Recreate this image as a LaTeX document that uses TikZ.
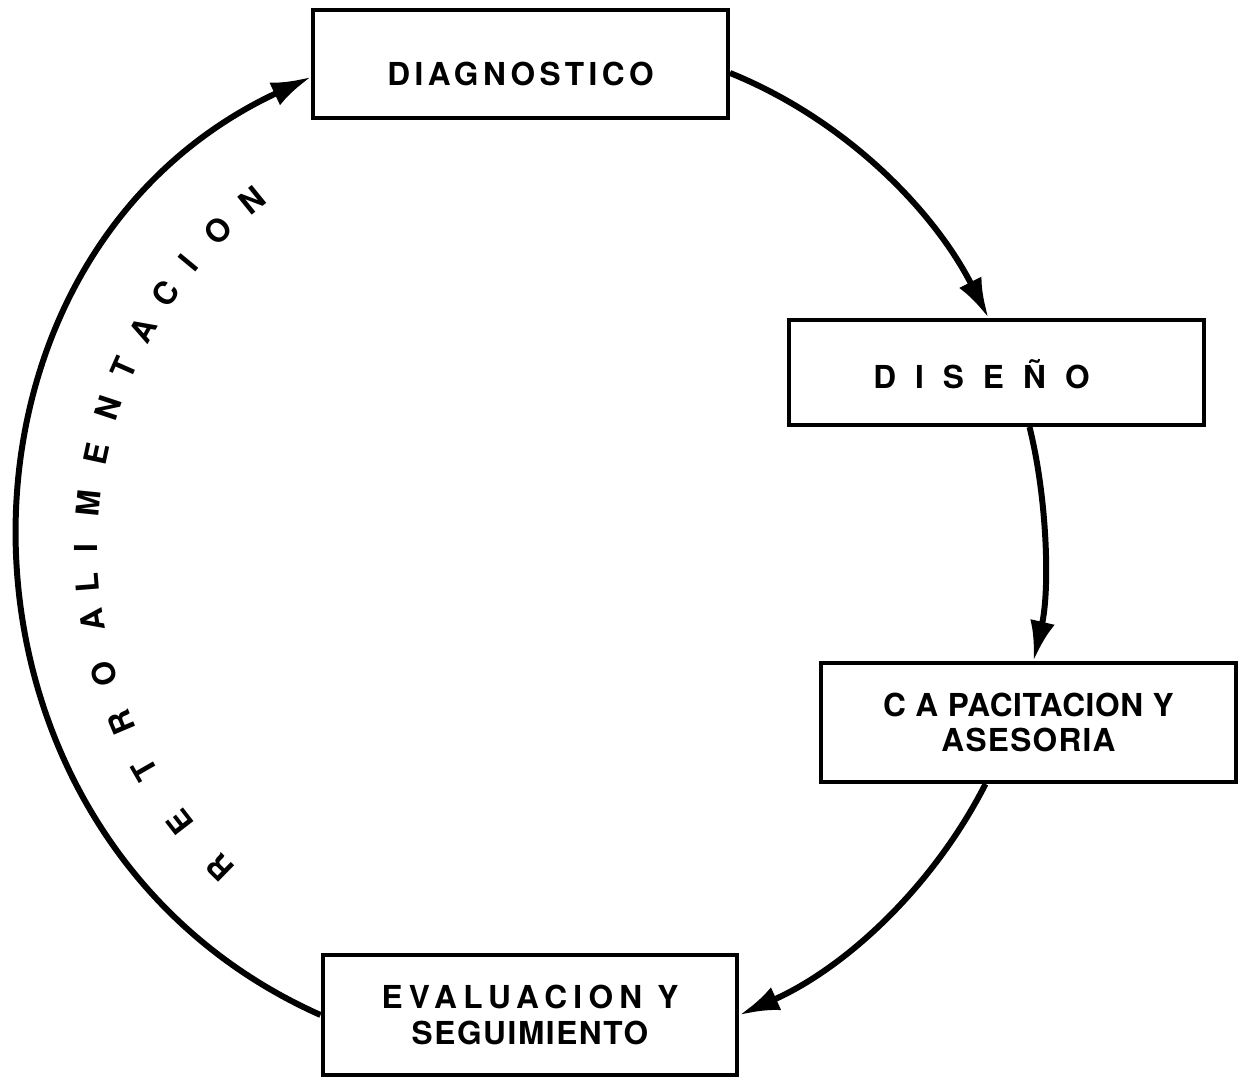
\documentclass[tikz,border=0pt]{standalone}
\usepackage{fontspec}
\setmainfont{TeX Gyre Heros}
\usetikzlibrary{arrows.meta}
\tikzset{
	caja/.style={draw, line width=2.3pt, minimum width=8.3cm, inner sep=0pt, align=center, font=\fontsize{18}{20}\selectfont\bfseries},
	flecha/.style={line width=3.4pt, -{Latex[length=8mm,width=5mm]}},
	letra/.style={inner sep=0pt, font=\fontsize{18}{18}\selectfont\bfseries},
}
\begin{document}
\begin{tikzpicture}[x=0.02cm,y=0.02cm]
	\useasboundingbox (0,0) rectangle (1238,1077);

	\node[caja, minimum height=2.16cm, text height=0.86cm] (diag) at (520.5,1013) {\addfontfeatures{LetterSpace=14}DIAGNOSTICO};
	\node[caja, minimum height=2.1cm, text height=0.66cm] (dis) at (996.5,704.5) {\addfontfeatures{LetterSpace=60}DISEÑO\hspace*{0.6cm}};
	\node[caja, minimum height=2.38cm] (cap) at (1028.5,354.5) {\addfontfeatures{LetterSpace=2}C A PACITACION Y\\\addfontfeatures{LetterSpace=4}ASESORIA};
	\node[caja, minimum height=2.4cm] (seg) at (530,62) {\addfontfeatures{LetterSpace=20}EVALUACION Y\\\addfontfeatures{LetterSpace=5}SEGUIMIENTO};

	% flechas
	\draw[flecha] ([yshift=-1.8mm]diag.east) to[out=-22,in=117,looseness=0.88] ([xshift=-1.6mm]dis.north);
	\draw[flecha] ([xshift=6.6mm]dis.south) to[out=-76,in=77,looseness=0.8] ([xshift=1mm]cap.north);
	\draw[flecha] ([xshift=-8.6mm]cap.south) to[out=-117,in=24,looseness=0.88] (seg.east);
	\draw[flecha] (seg.west) to[out=156,in=205,looseness=1.18] ([yshift=-2.6mm]diag.west);

	% texto curvo
	\begin{scope}[shift={(533,529)}]
	\foreach \ang/\l [count=\i] in {225.6/R,217.8/E,209.8/T,203/R,196.3/O,189.3/A,184.5/L,180/I,174.2/M,167.8/E,161.7/N,156.2/T,150.8/A,145.3/C,140.4/I,134.8/O,129/N} {
		\node[letra, rotate=\ang-90] (l\i) at (\ang:447) {\l};
	}
	\end{scope}
\end{tikzpicture}
\end{document}
